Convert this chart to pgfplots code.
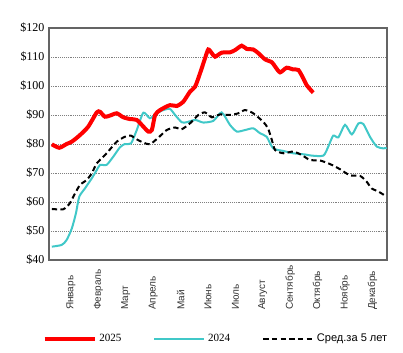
\documentclass[border=0pt]{standalone}
\usepackage{pgfplots}
\pgfplotsset{compat=1.18}
\usepackage{fontspec}
\setmainfont{Liberation Serif}
\setsansfont{Liberation Sans}
\definecolor{cy}{RGB}{64,200,200}
\definecolor{fr}{RGB}{100,100,100}
\begin{document}
\begin{tikzpicture}
\useasboundingbox (-36.75pt,-69.75pt) rectangle (265.5pt,195pt);
\begin{axis}[
  scale only axis, width=253.5pt, height=174pt,
  xmin=0.197, xmax=12.533, ymin=40, ymax=120,
  axis line style={draw=fr, line width=1.3pt},
  ytick={40,50,...,120},
  yticklabels={\$40,\$50,\$60,\$70,\$80,\$90,\$100,\$110,\$120},
  yticklabel style={font=\fontsize{9}{10}\selectfont},
  xtick={1,...,12},
  xticklabels={Январь,Февраль,Март,Апрель,Май,Июнь,Июль,Август,Сентябрь,Октябрь,Ноябрь,Декабрь},
  xticklabel style={rotate=90, anchor=west, font=\sffamily\fontsize{7.5}{9}\selectfont, text=black!80},
  xticklabel shift=41pt,
  major tick length=0pt,
  ymajorgrids, grid style={densely dotted, gray, line width=0.6pt},
  legend columns=3,
  legend style={at={(0.495,-0.34)}, anchor=center, draw=none, fill=none,
    font=\fontsize{8.3}{10}\selectfont,
    /tikz/every even column/.append style={column sep=22pt}},
  legend image code/.code={\draw[#1] (0pt,0pt) -- (37.5pt,0pt);},
]
\addplot[cy, line width=1.5pt, smooth, tension=0.4, forget plot] coordinates {
(0.30,44.6)(0.66,45.2)(0.84,46.9)(1.03,50.9)(1.18,56.1)(1.30,61.8)(1.51,64.7)(1.76,68.2)(1.94,71.0)(2.06,72.8)(2.30,72.8)(2.54,75.6)(2.79,78.9)(2.97,80.0)(3.19,80.2)(3.40,84.8)(3.64,90.8)(3.88,88.9)(4.13,90.6)(4.37,91.7)(4.61,92.1)(4.80,90.0)(5.04,87.5)(5.22,87.5)(5.53,88.3)(5.83,87.4)(6.20,88.0)(6.50,90.9)(6.80,86.6)(7.05,84.3)(7.35,84.8)(7.65,85.4)(7.90,83.7)(8.14,82.5)(8.38,78.5)(8.75,77.6)(9.11,76.8)(9.54,76.4)(9.78,76.0)(10.21,76.0)(10.39,79.1)(10.57,82.9)(10.76,82.3)(11.00,86.6)(11.25,83.3)(11.49,87.1)(11.67,86.9)(11.91,82.5)(12.16,79.1)(12.40,78.5)(12.52,78.7)
};
\addplot[black, line width=1.5pt, dash pattern=on 4pt off 2.5pt, smooth, tension=0.4, forget plot] coordinates {
(0.30,57.6)(0.72,57.5)(0.96,59.6)(1.15,63.0)(1.33,65.9)(1.57,67.6)(1.76,69.9)(1.94,73.3)(2.30,76.8)(2.67,80.8)(2.97,82.5)(3.18,82.9)(3.40,81.6)(3.64,80.5)(3.88,79.9)(4.19,82.2)(4.49,84.8)(4.80,85.7)(5.04,85.1)(5.34,87.1)(5.65,90.0)(5.89,90.9)(6.14,89.2)(6.44,90.2)(6.80,90.0)(7.11,90.6)(7.35,91.7)(7.65,90.6)(8.01,87.7)(8.19,85.4)(8.33,81.4)(8.45,77.9)(8.75,76.8)(9.11,77.4)(9.42,76.2)(9.72,74.5)(10.09,74.3)(10.45,73.1)(10.82,71.3)(11.18,69.2)(11.55,69.0)(11.79,67.0)(11.97,64.7)(12.22,63.6)(12.46,62.2)
};
\addplot[red, line width=3pt, smooth, tension=0.4, forget plot] coordinates {
(0.30,79.9)(0.57,78.7)(0.84,80.0)(1.03,80.8)(1.33,83.1)(1.63,86.0)(1.94,90.9)(2.06,91.1)(2.24,89.4)(2.48,90.0)(2.67,90.6)(2.91,89.2)(3.15,88.6)(3.40,88.3)(3.64,86.0)(3.82,84.3)(3.95,84.8)(4.07,90.0)(4.25,91.7)(4.61,93.4)(4.86,93.1)(5.10,94.6)(5.34,98.0)(5.53,99.8)(5.71,104.4)(5.89,109.5)(6.01,112.6)(6.14,111.3)(6.26,110.1)(6.50,111.5)(6.80,111.6)(6.99,112.4)(7.23,113.9)(7.41,112.8)(7.65,112.6)(7.84,111.3)(8.08,109.2)(8.33,108.2)(8.45,106.7)(8.63,104.7)(8.87,106.3)(9.11,105.7)(9.30,105.5)(9.48,102.6)(9.60,100.3)(9.84,97.7)
};
\addlegendimage{red, line width=3pt}
\addlegendentry{2025}
\addlegendimage{cy, line width=1.5pt}
\addlegendentry{2024}
\addlegendimage{black, line width=1.5pt, dash pattern=on 4pt off 2.5pt}
\addlegendentry{\sffamily Сред.за 5 лет}
\end{axis}
\end{tikzpicture}
\end{document}
